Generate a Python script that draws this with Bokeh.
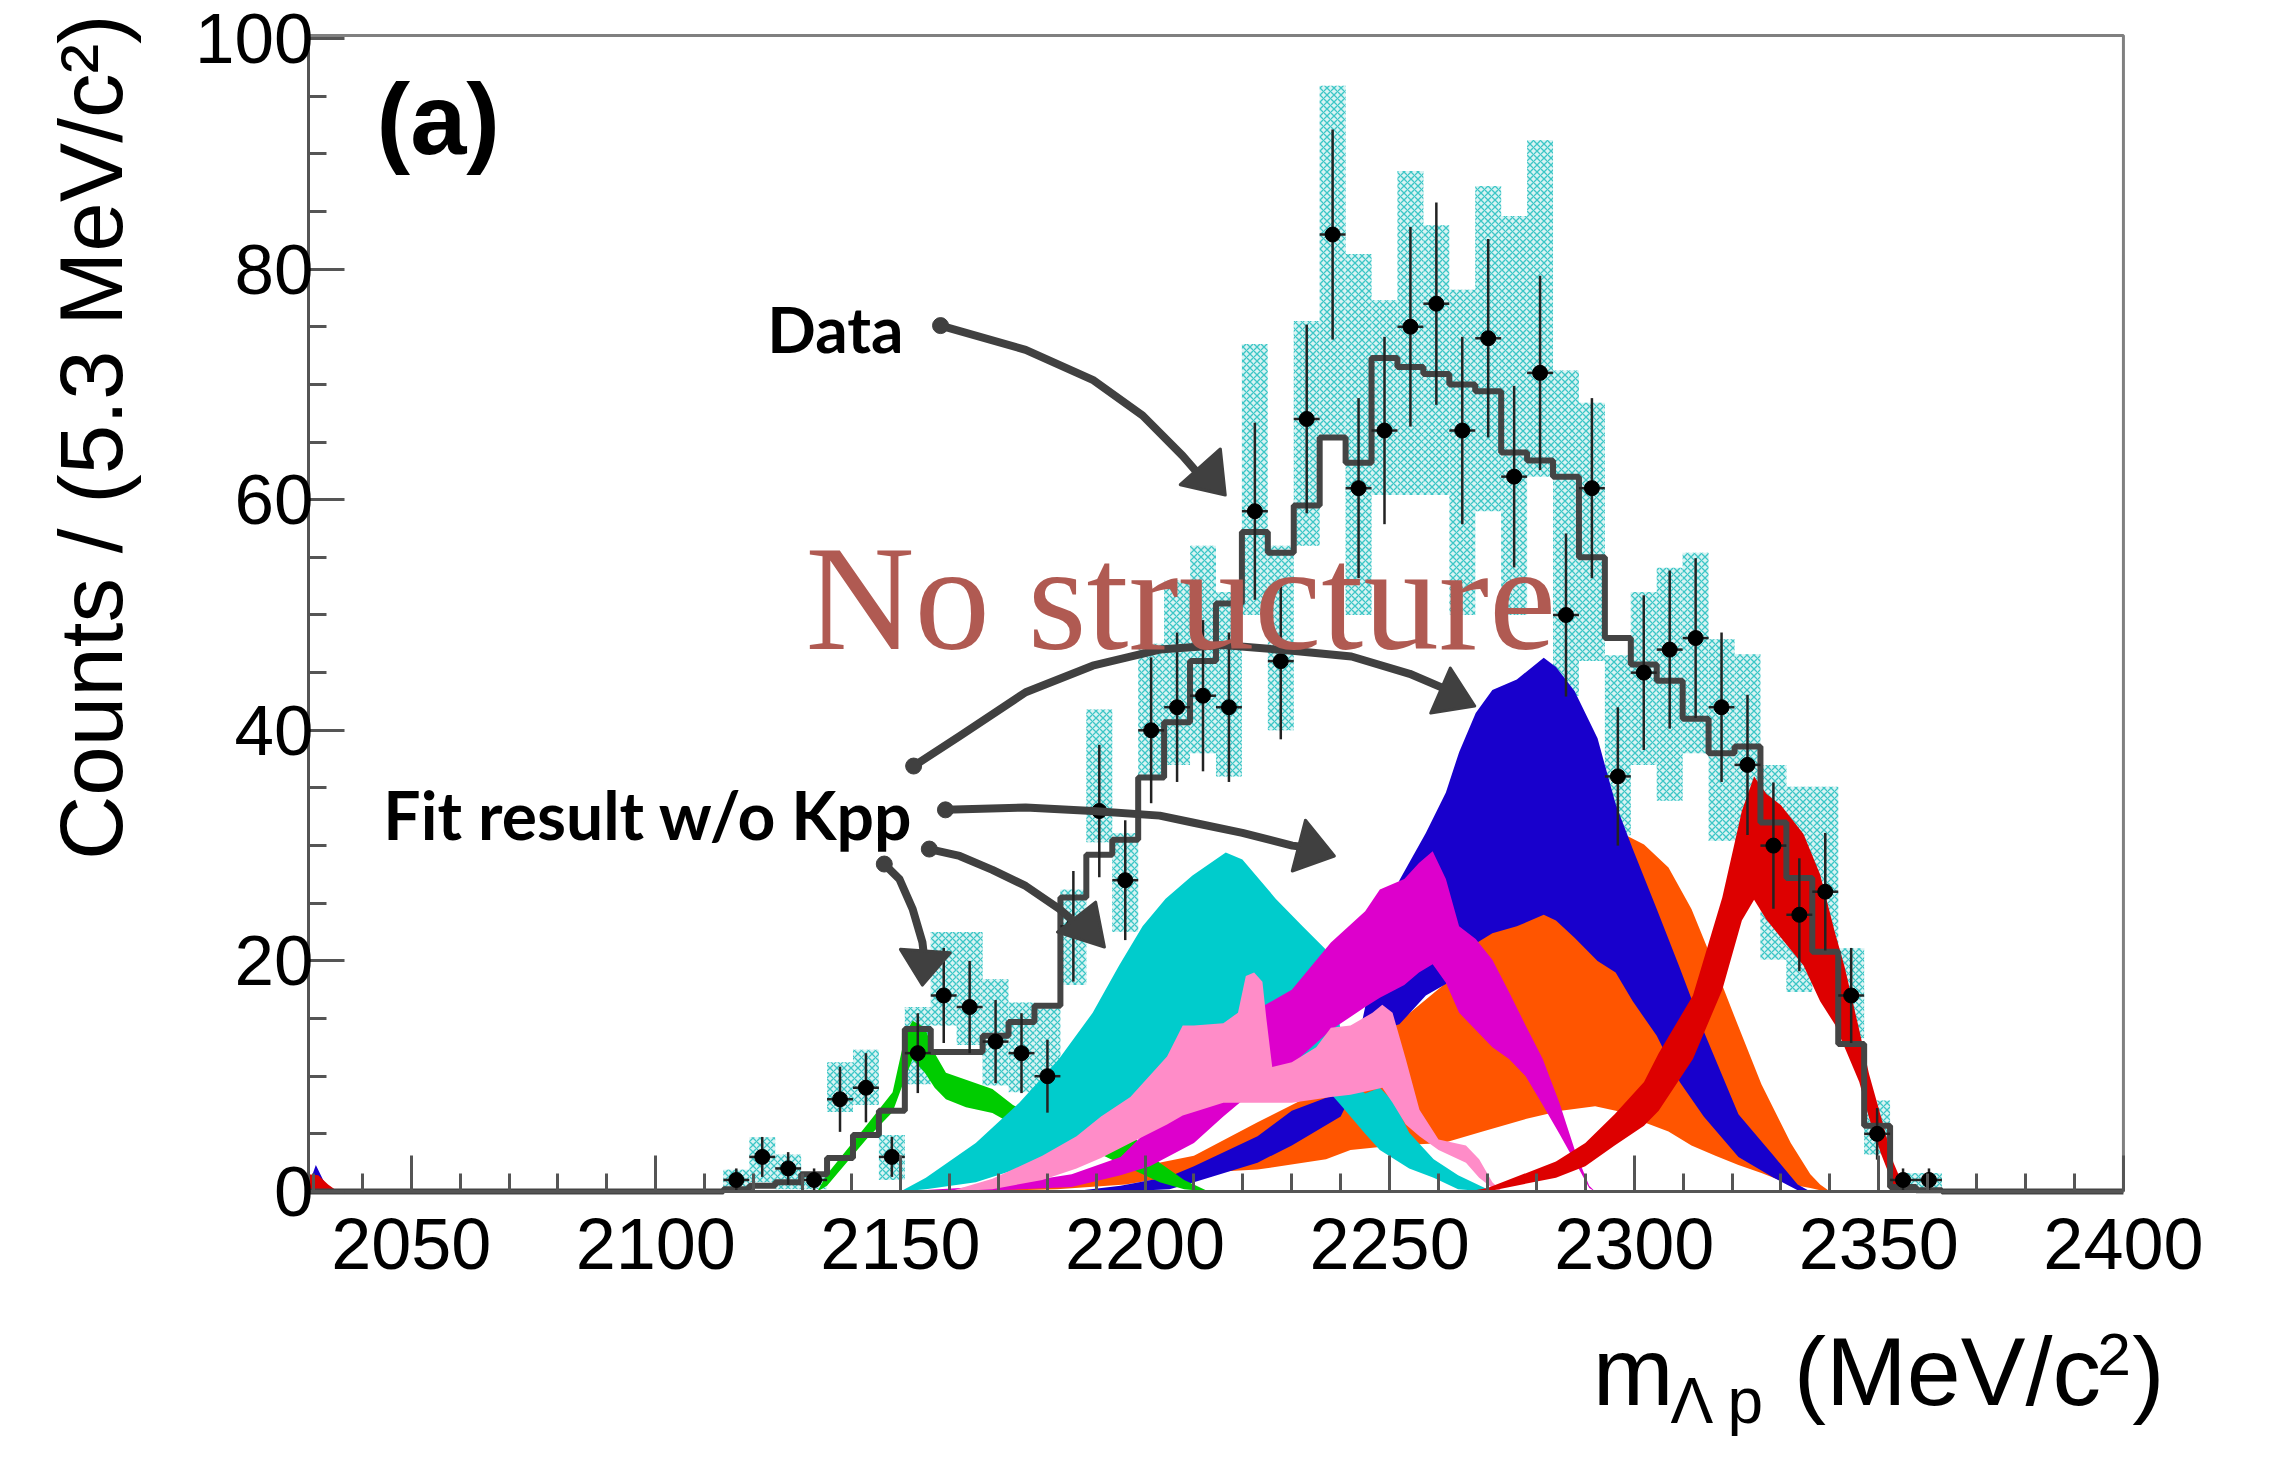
import numpy as np
from bokeh.plotting import figure
from bokeh.models import Range1d, FixedTicker, Label
from bokeh.embed import file_html
from bokeh.resources import INLINE

# ---------------- binning / axes ----------------
BIN_LO, BIN_W, N_BINS = 2029.0, 5.3, 70
X_MIN, X_MAX = 2029.0, 2400.0
Y_MIN, Y_MAX = 0.0, 100.26

x_ticks = [2050, 2100, 2150, 2200, 2250, 2300, 2350, 2400]
x_minor = list(range(2030, 2400, 10))
y_ticks = [0, 20, 40, 60, 80, 100]
y_minor = list(range(0, 101, 5))

# ---------------- data (bins 16..62) ----------------
first_bin = 16
data_counts = [1, 3, 2, 1, 8, 9, 3, 12, 17, 16,
               13, 12, 10, 23, 33, 27, 40, 42, 43, 42,
               59, 46, 67, 83, 61, 66, 75, 77, 66, 74,
               62, 71, 50, 61, 36, 45, 47, 48, 42, 37,
               30, 24, 26, 17, 5, 1, 1]
syst_lo = [0.2, 0.8, 0.2, 0.2, 6.9, 7.5, 1.0, 9.3, 14.4, 12.7,
           9.2, 8.6, 8.8, 17.9, 30.3, 22.5, 35.7, 37.0, 38.0, 36.0,
           50.0, 40.0, 56.0, 65.2, 50.0, 60.4, 60.4, 60.4, 50.0, 59.0,
           50.0, 62.0, 43.0, 46.0, 30.9, 37.0, 33.9, 38.0, 30.4, 30.4,
           20.1, 17.3, 21.4, 13.3, 3.2, 0.0, 0.0]
syst_hi = [1.9, 4.7, 3.2, 1.4, 11.2, 12.3, 4.9, 16.0, 22.5, 22.5,
           18.4, 16.4, 16.0, 26.2, 41.8, 31.1, 47.5, 53.0, 56.0, 52.0,
           73.5, 56.0, 75.5, 95.9, 81.3, 77.3, 88.5, 83.8, 78.2, 87.2,
           84.6, 91.2, 71.2, 68.4, 46.5, 52.0, 54.1, 55.4, 47.9, 46.6,
           37.0, 35.1, 35.1, 21.1, 7.9, 1.6, 1.6]
fit_total = [0.2, 0.5, 0.8, 1.5, 2.9, 4.9, 7.0, 14.1, 12.1, 12.1,
             13.5, 14.7, 16.1, 25.5, 29.2, 30.5, 35.9, 40.7, 46.0, 51.0,
             57.2, 55.4, 59.5, 65.4, 63.2, 72.3, 71.5, 70.9, 70.0, 69.4,
             64.1, 63.4, 62.0, 55.0, 48.0, 45.7, 44.3, 41.0, 38.0, 38.6,
             32.0, 27.2, 20.8, 12.8, 5.7, 0.4, 0.1]

# ---------------- fit component bands ----------------
green_x = [2133, 2135, 2143, 2148.4, 2151.1, 2152.5, 2155, 2157, 2159.3, 2163.4, 2168.8, 2173, 2180, 2186, 2191, 2197, 2203, 2208, 2213]
green_hi = [0, 1.5, 5.7, 8.6, 13.8, 14.8, 14.2, 12.0, 10.3, 9.7, 8.9, 7.5, 6.0, 6.5, 7.3, 5.0, 2.5, 1.0, 0]
green_lo = [0, 0.5, 4.5, 6.9, 10.0, 11.5, 10.3, 9.0, 8.0, 7.3, 6.8, 5.8, 4.0, 3.5, 3.2, 2.0, 0.8, 0.2, 0]

cyan_x = [2150, 2155.2, 2165.4, 2174.3, 2182.4, 2189.3, 2194.7, 2199.5, 2204.2, 2209.7, 2216.5, 2219.9, 2226.7, 2232.2, 2236.9, 2240, 2242, 2245, 2248, 2251, 2254, 2259, 2264, 2270, 2273]
cyan_hi = [0, 1.2, 4.2, 7.7, 11.5, 15.5, 19.6, 23.0, 25.4, 27.4, 29.4, 28.8, 25.4, 23.0, 21.0, 14.0, 9.5, 8.5, 9.0, 7.7, 5.1, 2.8, 1.4, 0.2, 0]
cyan_lo = [0, 0.2, 0.8, 2.0, 3.5, 5.0, 6.0, 6.8, 7.5, 8.5, 9.5, 10.0, 10.0, 9.5, 9.0, 7.5, 6.5, 5.0, 3.6, 2.8, 2.0, 1.2, 0.2, 0, 0]

pink_x = [2160, 2168.8, 2179, 2186, 2191, 2197, 2204.5, 2207.7, 2210, 2216, 2219, 2220.6, 2222.3, 2224, 2224.8, 2226, 2230, 2235, 2238, 2242, 2246.5, 2248.5, 2250.6, 2253.3, 2256.1, 2260, 2265.6, 2268.3, 2271, 2273]
pink_hi = [0, 1.1, 3.1, 4.8, 6.5, 8.2, 11.7, 14.4, 14.4, 14.6, 15.5, 18.7, 19.0, 18.2, 15.0, 10.8, 11.2, 12.5, 14.2, 14.4, 15.5, 16.2, 15.5, 11.5, 7.1, 4.5, 4.0, 2.8, 0.8, 0]
pink_lo = [0, 0.2, 1.0, 2.0, 2.9, 4.2, 5.8, 6.6, 6.9, 7.7, 7.7, 7.7, 7.7, 7.7, 7.7, 7.7, 7.7, 8.0, 8.2, 8.4, 8.8, 9.0, 7.7, 5.8, 4.8, 3.6, 2.5, 1.2, 0.3, 0]

magenta_x = [2150, 2170, 2185, 2195, 2201, 2210, 2216, 2223, 2230, 2238, 2245, 2248, 2253, 2256, 2258.8, 2261.5, 2264.2, 2267.6, 2271, 2274.4, 2277.8, 2281.3, 2284.7, 2288, 2290.8, 2292]
magenta_hi = [0, 0.5, 1.5, 3.0, 5.5, 7.5, 11.7, 15.8, 17.5, 21.6, 24.3, 26.2, 27.1, 28.5, 29.5, 27.1, 23.0, 21.9, 20.1, 17.3, 14.4, 11.5, 7.7, 3.4, 0.5, 0]
magenta_lo = [0, 0.1, 0.4, 1.4, 2.2, 4.2, 6.5, 9.0, 11.0, 14.0, 16.0, 16.8, 17.9, 19.0, 19.7, 18.1, 15.5, 14.0, 12.5, 11.5, 10.0, 7.5, 5.0, 2.5, 0.3, 0]

blue_x = [2185, 2195, 2205, 2210, 2223, 2230, 2240, 2244, 2248, 2252, 2257.4, 2261.5, 2264.2, 2267.6, 2271, 2276, 2281.5, 2284, 2287.8, 2292.5, 2296.2, 2299.7, 2304.6, 2309.3, 2314.2, 2321.3, 2328.5, 2333.4, 2336]
blue_hi = [0, 0.5, 1.3, 2.2, 4.8, 7.0, 8.6, 14.0, 22.0, 27.0, 31.1, 34.6, 38.1, 41.5, 43.5, 44.4, 46.3, 45.5, 43.4, 39.3, 33.6, 29.7, 24.5, 19.4, 13.9, 6.7, 3.1, 0.6, 0]
blue_lo = [0, 0, 0.2, 0.8, 2.5, 4.0, 6.5, 10.0, 14.0, 14.5, 17.0, 18.0, 20.0, 21.5, 22.4, 23.0, 24.0, 23.5, 22.0, 20.0, 19.0, 16.5, 13.5, 9.5, 6.5, 3.0, 1.2, 0.1, 0]

orange_x = [2165, 2182, 2196, 2210, 2223, 2237, 2242, 2251, 2261, 2269, 2278, 2285, 2292, 2297.4, 2302, 2307, 2311.7, 2316.6, 2321.3, 2326, 2332, 2336, 2338, 2340]
orange_hi = [0, 1.1, 1.9, 3.1, 6.0, 9.0, 11.0, 14.4, 17.9, 22.2, 25.0, 28.0, 30.5, 31.1, 30.1, 28.1, 24.5, 19.4, 14.3, 9.3, 4.2, 1.5, 0.6, 0]
orange_lo = [0, 0.2, 0.6, 1.6, 1.9, 2.8, 3.6, 4.0, 4.2, 5.2, 6.3, 7.0, 7.4, 6.9, 6.0, 5.2, 4.0, 3.1, 2.3, 1.6, 0.6, 0.3, 0.1, 0]

red_x = [2266, 2270, 2284, 2290, 2296, 2302, 2305, 2312, 2318, 2322, 2324.5, 2327, 2330, 2334.6, 2338, 2341, 2343, 2346, 2348, 2350.5, 2353, 2355.5]
red_hi = [0, 0.3, 2.6, 4.2, 6.7, 9.5, 12.0, 17.0, 25.5, 33.0, 36.0, 34.5, 33.5, 31.0, 27.5, 22.5, 19.5, 14.0, 10.2, 6.4, 2.5, 0]
red_lo = [0, 0, 1.2, 2.2, 4.0, 5.7, 7.0, 11.5, 17.5, 23.5, 25.3, 23.6, 22.0, 19.6, 16.5, 14.5, 12.5, 9.5, 6.4, 3.2, 0.5, 0]

edge_blue_x = [2029, 2030.5, 2032, 2033.5]
edge_blue_hi = [0.5, 2.3, 1.0, 0]
edge_red_x = [2029, 2031, 2033, 2035]
edge_red_hi = [1.5, 1.4, 0.6, 0]

# ---------------- annotation arrows (data coordinates) ----------------
arrow_data = ([2158.2, 2175.6, 2189.3, 2199.5, 2207.7, 2212.4],
              [75.1, 73.0, 70.4, 67.3, 63.8, 61.5],
              [2216.4, 2207.2, 2215.4], [60.4, 61.3, 64.4])
arrow_fit_a = ([2152.7, 2162.1, 2175.6, 2189.3, 2203.0, 2215.8, 2230.1, 2242.2, 2254.1, 2261.8],
               [36.9, 39.5, 43.3, 45.6, 47.0, 47.4, 46.9, 46.4, 44.9, 43.5],
               [2267.4, 2262.4, 2258.4], [42.1, 45.4, 41.5])
arrow_fit_b = ([2159.2, 2175.6, 2189.3, 2203.0, 2209.7, 2219.9, 2230.1, 2232.0],
               [33.1, 33.3, 33.0, 32.6, 32.0, 31.1, 30.0, 29.9],
               [2238.7, 2232.8, 2230.1], [29.1, 32.2, 27.8])
arrow_fit_c = ([2155.9, 2162.1, 2168.8, 2175.6, 2182.5, 2185.8],
               [29.7, 29.1, 27.9, 26.5, 24.5, 23.3],
               [2191.7, 2182.1, 2189.9], [21.2, 22.5, 25.1])
arrow_fit_d = ([2146.7, 2149.8, 2152.5, 2154.5, 2154.8],
               [28.4, 27.1, 24.5, 21.6, 20.5],
               [2154.5, 2150.0, 2160.2], [17.9, 21.0, 20.7])

# ---------------- layout: the canvas is one big frame, the axes sit at fixed locations ----------------
CANVAS_W, CANVAS_H = 2254, 1440
PX_PER_MEV, PX_PER_COUNT = 4.892, 11.53
AXIS_LEFT_PX, AXIS_TOP_PX = 308, 35
view_x0 = X_MIN - AXIS_LEFT_PX / PX_PER_MEV
view_x1 = view_x0 + CANVAS_W / PX_PER_MEV
view_y1 = Y_MAX + AXIS_TOP_PX / PX_PER_COUNT
view_y0 = view_y1 - CANVAS_H / PX_PER_COUNT

p = figure(frame_width=CANVAS_W, frame_height=CANVAS_H,
           x_range=Range1d(view_x0, view_x1), y_range=Range1d(view_y0, view_y1),
           output_backend="svg", toolbar_location=None,
           min_border_left=0, min_border_right=0, min_border_top=0, min_border_bottom=0)
p.background_fill_color = "white"
p.border_fill_color = "white"
p.xgrid.visible = False
p.ygrid.visible = False
p.outline_line_color = None

p.xaxis.fixed_location = Y_MIN
p.yaxis.fixed_location = X_MIN
p.xaxis.bounds = (X_MIN, X_MAX)
p.yaxis.bounds = (Y_MIN, Y_MAX)
p.xaxis.ticker = FixedTicker(ticks=x_ticks, minor_ticks=x_minor)
p.yaxis.ticker = FixedTicker(ticks=y_ticks, minor_ticks=y_minor)
for ax in (p.xaxis[0], p.yaxis[0]):
    ax.major_tick_in = 36
    ax.major_tick_out = 0
    ax.minor_tick_in = 18
    ax.minor_tick_out = 0
    ax.major_tick_line_color = "#555555"
    ax.major_tick_line_width = 3
    ax.minor_tick_line_color = "#555555"
    ax.minor_tick_line_width = 3
    ax.axis_line_color = "#555555"
    ax.axis_line_width = 3
    ax.major_label_text_font = "Liberation Sans"
    ax.major_label_text_color = "black"
p.xaxis.major_label_text_font_size = "72px"
p.yaxis.major_label_text_font_size = "71px"
p.xaxis.major_label_standoff = 28
p.yaxis.major_label_standoff = -5

# systematic boxes
centers = BIN_LO + BIN_W * (np.arange(first_bin, first_bin + len(data_counts)) + 0.5)
p.quad(left=centers - BIN_W / 2, right=centers + BIN_W / 2, bottom=syst_lo, top=syst_hi,
       fill_color="#d9f3f3", line_color=None,
       hatch_pattern="diagonal_cross", hatch_color="#3cc6c6", hatch_scale=7, hatch_weight=1.3)

# bands (back to front)
p.varea(x=orange_x, y1=orange_lo, y2=orange_hi, fill_color="#FF5500")
p.varea(x=blue_x, y1=blue_lo, y2=blue_hi, fill_color="#1800CC")
p.varea(x=edge_blue_x, y1=[0] * len(edge_blue_x), y2=edge_blue_hi, fill_color="#1800CC")
p.varea(x=green_x, y1=green_lo, y2=green_hi, fill_color="#00CC00")
p.varea(x=cyan_x, y1=cyan_lo, y2=cyan_hi, fill_color="#00CCCC")
p.varea(x=magenta_x, y1=magenta_lo, y2=magenta_hi, fill_color="#DD00CC")
p.varea(x=pink_x, y1=pink_lo, y2=pink_hi, fill_color="#FF8CC8")
p.varea(x=red_x, y1=red_lo, y2=red_hi, fill_color="#DD0000")
p.varea(x=edge_red_x, y1=[0] * len(edge_red_x), y2=edge_red_hi, fill_color="#DD0000")

# total fit histogram
hist = np.zeros(N_BINS)
hist[first_bin:first_bin + len(fit_total)] = fit_total
edges = BIN_LO + BIN_W * np.arange(N_BINS + 1)
p.step(x=edges, y=np.append(hist, hist[-1]), mode="after", line_color="#444444", line_width=6)

# ROOT frame (top and right sides)
p.line(x=[X_MIN, X_MAX, X_MAX], y=[Y_MAX, Y_MAX, Y_MIN], line_color="#808080", line_width=3)

# data points
cnt = np.array(data_counts, dtype=float)
err = np.sqrt(cnt)
p.segment(x0=centers, y0=cnt - err, x1=centers, y1=cnt + err, line_color="#222222", line_width=2.5)
p.segment(x0=centers - BIN_W / 2, y0=cnt, x1=centers + BIN_W / 2, y1=cnt, line_color="#222222", line_width=2.5)
p.scatter(x=centers, y=cnt, size=15, color="black")

# arrows
for xs, ys, hx, hy in (arrow_data, arrow_fit_a, arrow_fit_b, arrow_fit_c, arrow_fit_d):
    p.line(x=xs, y=ys, line_color="#404040", line_width=8, line_cap="round", line_join="round")
    p.patch(x=hx, y=hy, fill_color="#404040", line_color="#404040", line_width=3, line_join="round")
    p.scatter(x=[xs[0]], y=[ys[0]], size=16, color="#404040")

# texts inside the ROOT frame (label anchors at the bottom of the text box)
p.add_layout(Label(x=2042.9, y=88.2, text="(a)", text_font="Liberation Sans",
                   text_font_style="bold", text_font_size="101px", text_color="black"))
p.add_layout(Label(x=2122.8, y=71.5, text="Data", text_font="Lato",
                   text_font_style="bold", text_font_size="64px", text_color="black"))
p.add_layout(Label(x=2044.3, y=29.3, text="Fit result w/o Kpp", text_font="Lato",
                   text_font_style="bold", text_font_size="66px", text_color="black"))
p.add_layout(Label(x=2130.6, y=44.2, text="No structure", text_font="Liberation Serif",
                   text_font_size="151px", text_color="#B05A52"))

# axis titles
p.add_layout(Label(x=1994.7, y=102.1, text="Counts / (5.3 MeV/c²)", angle=np.pi / 2,
                   text_align="right",
                   text_font="Liberation Sans", text_font_size="89px", text_color="black"))
p.add_layout(Label(x=2291.5, y=-20.3, text="m",
                   text_font="Liberation Sans", text_font_size="97px", text_color="black"))
p.add_layout(Label(x=2307.4, y=-21.3, text="Λ p",
                   text_font="Liberation Sans", text_font_size="64px", text_color="black"))
p.add_layout(Label(x=2332.6, y=-20.3, text="(MeV/c",
                   text_font="Liberation Sans", text_font_size="97px", text_color="black"))
p.add_layout(Label(x=2394.7, y=-15.9, text="2",
                   text_font="Liberation Sans", text_font_size="60px", text_color="black"))
p.add_layout(Label(x=2401.8, y=-20.3, text=")",
                   text_font="Liberation Sans", text_font_size="97px", text_color="black"))

open("out.html", "w").write(file_html(p, INLINE))
